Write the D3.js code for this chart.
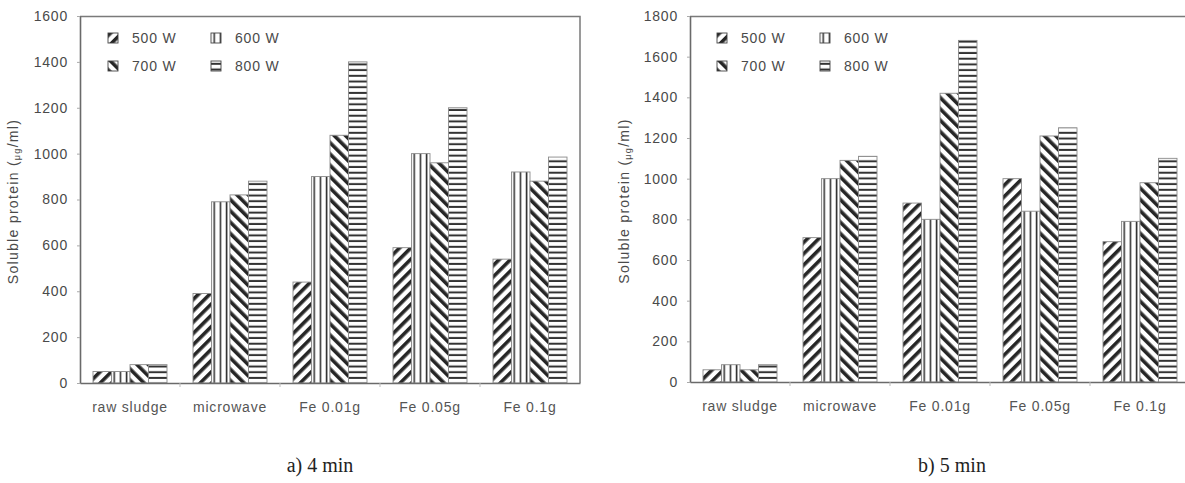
<!DOCTYPE html>
<html>
<head>
<meta charset="utf-8">
<script src="https://cdn.jsdelivr.net/npm/d3@7"></script>
<style>
  body { margin: 0; background: #fff; }
  svg { display: block; }
</style>
</head>
<body>
<svg width="1185" height="483"></svg>
<script>
// data
var categories = ["raw sludge", "microwave", "Fe 0.01g", "Fe 0.05g", "Fe 0.1g"];
var powers = ["500 W", "600 W", "700 W", "800 W"];
var protein4min = [
  [50, 50, 80, 80],
  [390, 790, 820, 880],
  [440, 900, 1080, 1400],
  [590, 1000, 960, 1200],
  [540, 920, 880, 985]
];
var protein5min = [
  [60, 85, 60, 85],
  [710, 1000, 1090, 1110],
  [880, 800, 1420, 1680],
  [1000, 840, 1210, 1250],
  [690, 790, 980, 1100]
];
var ticks4min = [0, 200, 400, 600, 800, 1000, 1200, 1400, 1600];
var ticks5min = [0, 200, 400, 600, 800, 1000, 1200, 1400, 1600, 1800];

var sans = "'Liberation Sans', Arial, sans-serif";
var svg = d3.select("svg");
var defs = svg.append("defs");

// hatch patterns: 500 W "/", 600 W vertical, 700 W "\", 800 W horizontal
function diag(id, angle) {
  var p = defs.append("pattern")
      .attr("id", id)
      .attr("patternUnits", "userSpaceOnUse")
      .attr("width", 8).attr("height", 8)
      .attr("patternTransform", "rotate(" + angle + ")");
  p.append("rect").attr("width", 8).attr("height", 8).attr("fill", "#fff");
  p.append("rect").attr("x", 0).attr("width", 3.6).attr("height", 8).attr("fill", "#262626");
}
diag("p500", 45);
diag("p700", -45);
var pv = defs.append("pattern")
    .attr("id", "p600")
    .attr("patternUnits", "userSpaceOnUse")
    .attr("width", 6.2).attr("height", 6);
pv.append("rect").attr("width", 6.2).attr("height", 6).attr("fill", "#fff");
pv.append("rect").attr("x", 2.4).attr("width", 1.6).attr("height", 6).attr("fill", "#333");
var ph = defs.append("pattern")
    .attr("id", "p800")
    .attr("patternUnits", "userSpaceOnUse")
    .attr("width", 6).attr("height", 5.7);
ph.append("rect").attr("width", 6).attr("height", 5.7).attr("fill", "#fff");
ph.append("rect").attr("y", 1.8).attr("width", 6).attr("height", 2).attr("fill", "#333");

var fills = d3.scaleOrdinal()
    .domain(powers)
    .range(["url(#p500)", "url(#p600)", "url(#p700)", "url(#p800)"]);

function drawPanel(opt) {
  var g = svg.append("g").attr("transform", "translate(" + opt.left + "," + opt.top + ")");
  var w = opt.width, h = opt.height;

  var x0 = d3.scaleBand().domain(categories).range([0, w]);
  var x1 = d3.scaleBand().domain(powers).range([13, x0.bandwidth() - 13]);
  var y = d3.scaleLinear().domain([0, opt.max]).range([h, 0]);

  // frame (top + right)
  g.append("path")
      .attr("d", "M0,0.5H" + w + "V" + h)
      .attr("fill", "none")
      .attr("stroke", "#7a7a7a")
      .attr("stroke-width", 1.5);

  // bars
  g.append("g")
    .selectAll("g")
    .data(opt.values)
    .enter().append("g")
      .attr("transform", function(d, i) { return "translate(" + x0(categories[i]) + ",0)"; })
    .selectAll("rect")
    .data(function(d) { return powers.map(function(k, j) { return {key: k, value: d[j]}; }); })
    .enter().append("rect")
      .attr("x", function(d) { return x1(d.key); })
      .attr("y", function(d) { return y(d.value); })
      .attr("width", x1.bandwidth())
      .attr("height", function(d) { return h - y(d.value); })
      .attr("fill", function(d) { return fills(d.key); })
      .attr("stroke", "#8a8a8a")
      .attr("stroke-width", 0.9);

  // y axis
  var yAxis = g.append("g")
      .call(d3.axisLeft(y).tickValues(opt.ticks).tickFormat(d3.format("d"))
        .tickSize(3).tickSizeOuter(0).tickPadding(9));
  yAxis.select(".domain").attr("stroke", "#6a6a6a").attr("stroke-width", 1.6);
  yAxis.selectAll(".tick line").attr("stroke", "#aaa");
  yAxis.selectAll("text")
      .attr("font-family", sans)
      .attr("font-size", 14)
      .attr("letter-spacing", 0.8)
      .attr("fill", "#4a4a4a");

  // x axis: labels at band centres, small ticks at band edges
  var xAxis = g.append("g")
      .attr("transform", "translate(0," + h + ")")
      .call(d3.axisBottom(x0).tickSize(0).tickPadding(19));
  xAxis.select(".domain").attr("stroke", "#6a6a6a").attr("stroke-width", 1.6);
  xAxis.selectAll("text")
      .attr("font-family", sans)
      .attr("font-size", 14)
      .attr("letter-spacing", 0.8)
      .attr("fill", "#555");
  xAxis.selectAll(".edge")
    .data(categories.slice(1))
    .enter().append("line")
      .attr("class", "edge")
      .attr("x1", function(d) { return x0(d); })
      .attr("x2", function(d) { return x0(d); })
      .attr("y1", 0).attr("y2", 4)
      .attr("stroke", "#bbb");

  // y title
  var t = g.append("text")
      .attr("transform", "translate(" + opt.titleX + "," + (h / 2 + 2) + ") rotate(-90)")
      .attr("text-anchor", "middle")
      .attr("font-family", sans)
      .attr("font-size", 14)
      .attr("letter-spacing", 1.3)
      .attr("fill", "#4a4a4a");
  t.append("tspan").text("Soluble protein (");
  t.append("tspan").attr("font-size", 9).attr("dy", 2).text("μg");
  t.append("tspan").attr("dy", -2).text("/ml)");

  // legend
  var legend = g.append("g")
    .selectAll("g")
    .data(powers)
    .enter().append("g")
      .attr("transform", function(d, i) {
        return "translate(" + (opt.legendX + (i % 2) * 103) + "," + (17 + Math.floor(i / 2) * 28) + ")";
      });
  legend.append("rect")
      .attr("width", 10).attr("height", 10)
      .attr("fill", fills)
      .attr("stroke", "#444")
      .attr("stroke-width", 0.9);
  legend.append("text")
      .attr("x", 24)
      .attr("y", 5)
      .attr("dy", "0.35em")
      .attr("font-family", sans)
      .attr("font-size", 14)
      .attr("letter-spacing", 0.8)
      .attr("fill", "#4a4a4a")
      .text(function(d) { return d; });

  // caption
  svg.append("text")
      .attr("x", opt.captionX)
      .attr("y", 472)
      .attr("text-anchor", "middle")
      .attr("font-family", "'Liberation Serif', 'Times New Roman', serif")
      .attr("font-size", 20)
      .attr("fill", "#222")
      .text(opt.caption);
}

drawPanel({
  left: 80, top: 16, width: 500, height: 367,
  max: 1600, ticks: ticks4min, values: protein4min,
  titleX: -62, legendX: 28, captionX: 320, caption: "a) 4 min"
});
drawPanel({
  left: 690, top: 16, width: 500, height: 366,
  max: 1800, ticks: ticks5min, values: protein5min,
  titleX: -61, legendX: 27, captionX: 952, caption: "b) 5 min"
});
</script>
</body>
</html>
